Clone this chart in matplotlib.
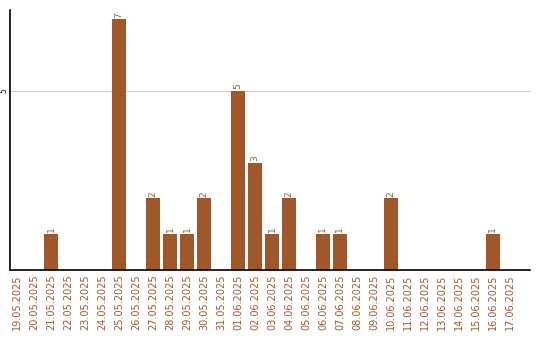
import matplotlib
matplotlib.use("Agg")
import matplotlib.pyplot as plt
import numpy as np

# Data
dates = ["19.05.2025", "20.05.2025", "21.05.2025", "22.05.2025", "23.05.2025",
         "24.05.2025", "25.05.2025", "26.05.2025", "27.05.2025", "28.05.2025",
         "29.05.2025", "30.05.2025", "31.05.2025", "01.06.2025", "02.06.2025",
         "03.06.2025", "04.06.2025", "05.06.2025", "06.06.2025", "07.06.2025",
         "08.06.2025", "09.06.2025", "10.06.2025", "11.06.2025", "12.06.2025",
         "13.06.2025", "14.06.2025", "15.06.2025", "16.06.2025", "17.06.2025"]
counts = [0, 0, 1, 0, 0, 0, 7, 0, 2, 1, 1, 2, 0, 5, 3, 1, 2, 0, 1, 1,
          0, 0, 2, 0, 0, 0, 0, 0, 1, 0]

brown = "#a0582b"

fig = plt.figure(figsize=(5.4, 3.4), dpi=100)
ax = fig.add_axes([10 / 540, 70 / 340, 520 / 540, 260 / 340])

x = np.arange(len(dates))
bars = ax.bar(x, counts, width=0.82, color=brown, zorder=2)

for xi, v in zip(x, counts):
    if v > 0:
        ax.text(xi, v + 0.05, str(v), rotation=90, ha="center", va="bottom",
                fontsize=6.5, color=brown)

ax.set_xlim(-0.41, 30.18)
ax.set_ylim(0, 7.26)
ax.set_xticks(x)
ax.set_xticklabels(dates, rotation=90, fontsize=7, color=brown)
ax.set_yticks([5])
ax.set_yticklabels(["5"], rotation=90, fontsize=5.5, va="center")
ax.tick_params(axis="x", length=0, pad=3)
ax.tick_params(axis="y", length=0, pad=1)
ax.yaxis.grid(True, color="#cccccc", linewidth=0.8, zorder=0)
ax.set_axisbelow(True)

for s in ["top", "right"]:
    ax.spines[s].set_visible(False)
ax.spines["left"].set_linewidth(1.2)
ax.spines["bottom"].set_linewidth(1.2)

fig.savefig("out.png", dpi=100)
